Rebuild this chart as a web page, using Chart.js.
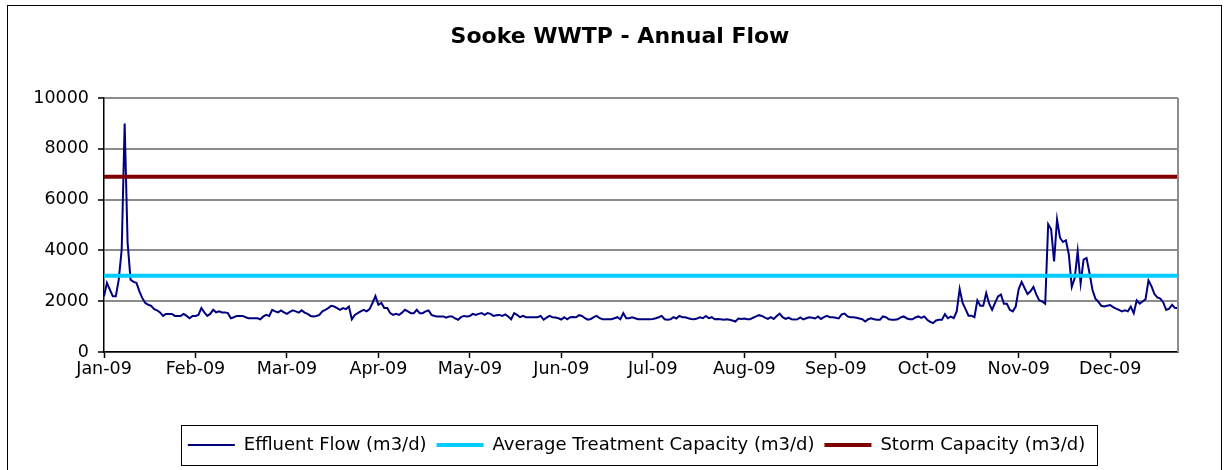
<!DOCTYPE html>
<html>
<head>
<meta charset="utf-8">
<script src="https://cdn.jsdelivr.net/npm/chart.js@4.4.1/dist/chart.umd.min.js"></script>
<style>
html,body{margin:0;padding:0;background:#fff;}
canvas{display:block;}
</style>
</head>
<body>
<canvas id="c" width="1225" height="470"></canvas>
<script>
const chartTitle = 'Sooke WWTP - Annual Flow';
const seriesNames = ['Effluent Flow (m3/d)', 'Average Treatment Capacity (m3/d)', 'Storm Capacity (m3/d)'];
const monthTickLabels = ['Jan-09','Feb-09','Mar-09','Apr-09','May-09','Jun-09','Jul-09','Aug-09','Sep-09','Oct-09','Nov-09','Dec-09'];
const monthLengths = [31,28,31,30,31,30,31,31,30,31,30,31];
const yTicks = { min: 0, max: 10000, step: 2000 };

// Daily effluent flow (m3/d)
const flowJan = [2190,2720,2450,2190,2190,2850,4040,9000,4300,2850,2760,2720,2390,2120,1930,1860,1820,1690,1640,1560,1420,1500,1500,1500,1420,1420,1420,1500,1420,1330,1420];
const flowFeb = [1420,1460,1730,1560,1420,1500,1660,1560,1600,1560,1560,1530,1330,1370,1420,1420,1420,1370,1330,1330,1330,1330,1290,1400,1460,1420,1660,1600];
const flowMar = [1560,1640,1560,1500,1580,1640,1600,1550,1640,1550,1500,1420,1400,1420,1460,1600,1660,1730,1820,1790,1730,1660,1730,1690,1790,1290,1460,1530,1600,1660,1600];
const flowApr = [1690,1930,2200,1860,1930,1730,1730,1530,1460,1500,1460,1550,1660,1600,1530,1530,1660,1530,1530,1600,1640,1460,1420,1400,1400,1400,1350,1400,1400,1320];
const flowMay = [1270,1370,1420,1400,1420,1500,1460,1500,1530,1460,1530,1500,1420,1450,1460,1420,1480,1400,1290,1530,1460,1370,1420,1370,1370,1370,1370,1370,1420,1270,1350];
const flowJun = [1420,1370,1360,1330,1280,1370,1290,1370,1380,1370,1450,1420,1330,1270,1300,1370,1420,1330,1290,1290,1290,1290,1330,1370,1290,1530,1330,1330,1370,1330];
const flowJul = [1290,1290,1290,1290,1290,1300,1330,1370,1420,1290,1270,1290,1370,1320,1420,1370,1370,1330,1300,1290,1320,1370,1330,1420,1330,1370,1290,1300,1290,1270,1290];
const flowAug = [1270,1240,1200,1320,1300,1320,1290,1290,1350,1400,1450,1420,1350,1300,1370,1300,1420,1510,1370,1300,1350,1290,1280,1290,1360,1280,1330,1370,1350,1320,1400];
const flowSep = [1300,1370,1420,1370,1370,1350,1320,1480,1510,1400,1370,1370,1350,1320,1290,1200,1290,1330,1290,1270,1270,1400,1370,1290,1270,1270,1290,1360,1400,1330];
const flowOct = [1290,1290,1360,1400,1340,1400,1270,1190,1140,1240,1270,1270,1490,1330,1390,1330,1600,2480,1930,1690,1430,1430,1370,2030,1820,1820,2320,1900,1660,1930,2190];
const flowNov = [2260,1900,1900,1660,1600,1790,2480,2760,2520,2280,2390,2560,2260,2030,1990,1900,5030,4830,3570,5220,4500,4330,4400,3840,2560,2910,3970,2700,3640,3700];
const flowDec = [3110,2450,2100,1980,1820,1790,1820,1850,1770,1710,1660,1600,1640,1600,1790,1530,2030,1900,1990,2080,2820,2590,2280,2150,2100,1950,1660,1710,1860,1730,1730];

const avgTreatmentCapacity = 3000;
const stormCapacity = 6900;

const effluentFlow = [].concat(flowJan, flowFeb, flowMar, flowApr, flowMay, flowJun,
                               flowJul, flowAug, flowSep, flowOct, flowNov, flowDec);
const dayLabels = [];
monthLengths.forEach((n, m) => { for (let d = 1; d <= n; d++) dayLabels.push(d + '-' + monthTickLabels[m]); });
const TICK_EVERY = 31;

const FONT = 'DejaVu Sans';

const decor = {
  id: 'decor',
  afterLayout(chart) {
    // centre the legend under the plot area like the original
    chart.legend.left = 95;
    chart.legend.right = 1178;
  },
  afterDraw(chart) {
    const ctx = chart.ctx, a = chart.chartArea;
    ctx.save();
    // title
    ctx.fillStyle = '#000';
    ctx.font = 'bold 22px "' + FONT + '"';
    ctx.textAlign = 'center';
    ctx.textBaseline = 'middle';
    ctx.fillText(chartTitle, 620, 37);
    // plot area right border
    ctx.strokeStyle = '#8c8c8c';
    ctx.lineWidth = 2;
    ctx.beginPath();
    ctx.moveTo(a.right, a.top);
    ctx.lineTo(a.right, a.bottom);
    ctx.stroke();
    // legend frame
    const hb = chart.legend.legendHitBoxes;
    if (hb && hb.length) {
      const last = hb[hb.length - 1];
      const l = Math.round(hb[0].left - 7) + 0.5;
      const r = Math.round(last.left + last.width + 12) + 0.5;
      const cy = hb[0].top + hb[0].height / 2;
      const t = Math.round(cy - 20) + 0.5;
      ctx.strokeStyle = '#000';
      ctx.lineWidth = 1;
      ctx.strokeRect(l, t, r - l, 40);
    }
    // chart outer border
    ctx.strokeStyle = '#000';
    ctx.lineWidth = 1;
    ctx.strokeRect(7.5, 5.5, 1214, 480);
    ctx.restore();
  }
};

new Chart(document.getElementById('c'), {
  type: 'line',
  data: {
    labels: dayLabels,
    datasets: [
      { label: seriesNames[0], data: effluentFlow, borderColor: '#000080', backgroundColor: '#000080',
        borderWidth: 2, pointRadius: 0, tension: 0, order: 2 },
      { label: seriesNames[1], data: effluentFlow.map(() => avgTreatmentCapacity), borderColor: '#00CCFF', backgroundColor: '#00CCFF',
        borderWidth: 4, pointRadius: 0, tension: 0, order: 1 },
      { label: seriesNames[2], data: effluentFlow.map(() => stormCapacity), borderColor: '#800000', backgroundColor: '#800000',
        borderWidth: 4, pointRadius: 0, tension: 0, order: 1 }
    ]
  },
  options: {
    responsive: false,
    animation: false,
    devicePixelRatio: 1,
    layout: { padding: { left: 8, right: 47, top: 98, bottom: 6 } },
    plugins: {
      title: { display: false },
      tooltip: { enabled: false },
      legend: {
        position: 'bottom',
        labels: {
          usePointStyle: true, pointStyle: 'line', pointStyleWidth: 47,
          padding: 10, color: '#000', font: { family: FONT, size: 18 },
          sort: (a, b) => a.datasetIndex - b.datasetIndex
        }
      }
    },
    scales: {
      x: {
        type: 'category',
        grid: { drawOnChartArea: false, tickLength: 6, tickColor: '#000', tickWidth: 1.5 },
        border: { color: '#000', width: 1.5 },
        ticks: {
          autoSkip: false, maxRotation: 0, minRotation: 0, padding: 1,
          color: '#000', font: { family: FONT, size: 17.5 },
          callback: (v, i) => (i % TICK_EVERY === 0 ? monthTickLabels[i / TICK_EVERY] : null)
        },
        afterFit: s => { s.height = 74; }
      },
      y: {
        min: yTicks.min, max: yTicks.max,
        ticks: { stepSize: yTicks.step, padding: 9, color: '#000', font: { family: FONT, size: 17.5 },
                 callback: v => String(v) },
        grid: { color: '#8c8c8c', lineWidth: 2, tickColor: '#000', tickLength: 6, tickWidth: 1.5 },
        border: { color: '#000', width: 1.5 },
        afterFit: s => { s.width = 96; }
      }
    }
  },
  plugins: [decor]
});
</script>
</body>
</html>
